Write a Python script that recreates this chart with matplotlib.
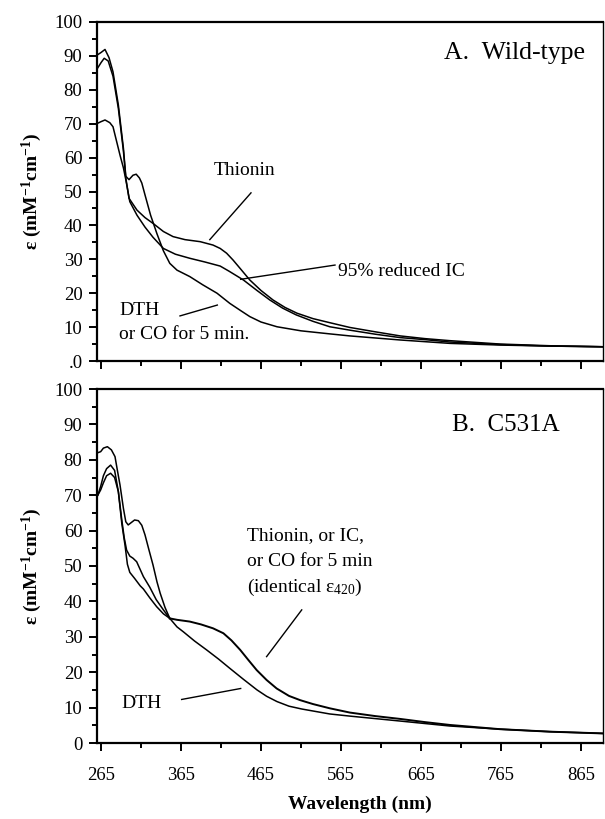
import matplotlib
matplotlib.use("Agg")
import matplotlib.pyplot as plt
from matplotlib.ticker import MultipleLocator, FixedLocator

plt.rcParams['font.family'] = ['Liberation Serif', 'DejaVu Serif']
plt.rcParams['mathtext.fontset'] = 'custom'
plt.rcParams['mathtext.rm'] = 'Liberation Serif'
plt.rcParams['mathtext.it'] = 'Liberation Serif:italic'
plt.rcParams['mathtext.bf'] = 'Liberation Serif:bold'

# ---- panel A: wild-type ----
wl_dth_a = [260.5, 265, 270, 275, 280, 286.7, 293, 296, 300, 305, 309, 313, 316, 320, 327, 335, 343,
            351, 360, 376, 392, 410, 426, 440, 451, 465, 485, 515, 551, 576, 639, 701, 764, 826, 893]
eps_dth_a = [90.3, 91.0, 91.9, 89.5, 85.3, 75.5, 62.8, 54.5, 53.5, 54.8, 55.1, 54.0, 52.5, 49.0, 43.0, 37.5, 32.5,
             28.8, 26.8, 24.9, 22.5, 20.0, 17.0, 14.8, 13.1, 11.5, 10.1, 8.9, 8.0, 7.4, 6.2, 5.2, 4.7, 4.4, 4.2]

wl_thio_a = [260.5, 265, 269, 274, 280, 286.7, 293, 296, 300, 310, 320, 330, 343, 355, 370, 389, 405, 414,
             422, 430, 440, 451, 465, 480, 495, 510, 530, 551, 576, 608, 639, 670, 701, 764, 826, 893]
eps_thio_a = [86.3, 88.0, 89.3, 88.5, 84.0, 74.5, 62.0, 54.0, 48.0, 44.5, 42.3, 40.6, 38.2, 36.7, 35.8, 35.2, 34.2, 33.2,
              31.8, 29.8, 27.0, 23.9, 20.8, 18.0, 15.8, 14.1, 12.5, 11.3, 9.9, 8.6, 7.4, 6.6, 6.0, 5.0, 4.5, 4.2]

wl_ic_a = [260.5, 265, 270, 276, 280, 284.6, 289, 293, 296, 301, 310, 320, 330, 343, 358, 376, 395, 414,
           425, 443, 460, 476, 492, 509, 530, 551, 576, 608, 639, 670, 701, 764, 826, 893]
eps_ic_a = [70.1, 70.6, 71.1, 70.3, 69.1, 64.7, 60.5, 57.0, 53.5, 47.0, 43.0, 39.5, 36.5, 33.2, 31.5, 30.3, 29.2, 28.0,
            26.5, 23.9, 20.8, 18.0, 15.6, 13.6, 11.7, 10.1, 9.1, 7.9, 6.9, 6.3, 5.6, 4.85, 4.4, 4.2]

# ---- panel B: C531A ----
wl_dth_b = [261, 264.6, 268, 273, 278, 282.5, 285.5, 288.75, 293, 296, 299, 303, 307, 311.7, 316, 320, 325, 330,
            335, 339, 345, 351, 360, 368, 382, 397, 412, 426, 443, 460, 472, 485, 500, 516, 551, 576, 639, 701, 764, 826, 893]
eps_dth_b = [82.0, 82.3, 83.3, 83.7, 82.8, 80.9, 77.0, 72.9, 66.3, 62.5, 61.6, 62.3, 63.0, 62.8, 61.5, 58.8, 54.5, 50.3,
             45.5, 42.3, 38.3, 35.2, 32.8, 31.4, 28.8, 26.3, 23.7, 21.1, 18.0, 15.0, 13.2, 11.7, 10.4, 9.6, 8.2, 7.6, 6.2, 4.8, 3.9, 3.2, 2.7]

wl_ox1_b = [261, 264.6, 268, 272, 277, 282, 286.7, 291, 294, 297, 301, 305, 309.6, 314, 318, 326, 334, 343, 351]
eps_ox1_b = [70.0, 72.5, 75.5, 77.5, 78.5, 77.0, 71.0, 63.0, 58.0, 54.5, 52.8, 52.2, 51.2, 49.0, 47.0, 44.0, 40.5, 37.6, 35.2]

wl_ox2_b = [261, 264.6, 268, 272, 277, 282, 286.7, 291, 295, 298, 301, 307, 314, 318, 326, 334.6, 343, 351]
eps_ox2_b = [70.0, 71.5, 73.5, 75.5, 76.2, 75.0, 71.0, 62.0, 55.9, 50.5, 48.2, 46.5, 44.4, 43.5, 41.0, 38.5, 36.5, 35.2]

# shared long-wavelength part of the oxidised / IC / CO spectra
wl_ox_tail_b = [351, 360, 376, 390, 405, 418, 428, 439, 449, 459.6, 472, 484.6, 500, 514, 530, 551, 576, 608,
                639, 670, 701, 764, 826, 893]
eps_ox_tail_b = [35.2, 34.8, 34.3, 33.5, 32.4, 31.0, 29.0, 26.3, 23.5, 20.6, 17.8, 15.4, 13.3, 12.1, 11.0, 9.8, 8.6, 7.6,
                 6.8, 5.9, 5.1, 3.9, 3.2, 2.7]

x_major = [265, 365, 465, 565, 665, 765, 865]
x_minor = [315, 415, 515, 615, 715, 815]

fig = plt.figure(figsize=(6.05, 8.19), dpi=100)
axA = fig.add_axes([97 / 605, 1 - 361 / 819, 506 / 605, 339 / 819])
axB = fig.add_axes([97 / 605, 1 - 743 / 819, 506 / 605, 354 / 819])

lw = 1.1
axA.plot(wl_dth_a, eps_dth_a, color='black', lw=lw)
axA.plot(wl_thio_a, eps_thio_a, color='black', lw=lw)
axA.plot(wl_ic_a, eps_ic_a, color='black', lw=lw)

axB.plot(wl_dth_b, eps_dth_b, color='black', lw=lw)
axB.plot(wl_ox1_b, eps_ox1_b, color='black', lw=lw)
axB.plot(wl_ox2_b, eps_ox2_b, color='black', lw=lw)
axB.plot(wl_ox_tail_b, eps_ox_tail_b, color='black', lw=lw + 0.3)

ylab = r'ε (mM$^{\mathbf{-1}}$cm$^{\mathbf{-1}}$)'
for ax in (axA, axB):
    ax.set_xlim(260, 892.5)
    ax.set_ylim(0, 100)
    ax.xaxis.set_major_locator(FixedLocator(x_major))
    ax.xaxis.set_minor_locator(FixedLocator(x_minor))
    ax.yaxis.set_major_locator(MultipleLocator(10))
    ax.yaxis.set_minor_locator(MultipleLocator(5))
    ax.tick_params(which='both', direction='out', width=1.4, top=False, right=False)
    ax.tick_params(which='major', length=5.5)
    ax.tick_params(which='minor', length=3.5)
    ax.tick_params(axis='y', labelsize=13.5, pad=5)
    ax.tick_params(axis='x', labelsize=13.5, pad=12)
    for s in ('left', 'bottom', 'top'):
        ax.spines[s].set_linewidth(1.6)
    ax.spines['right'].set_linewidth(1.0)
    ax.set_ylabel(ylab, fontsize=14, fontweight='bold')
    ax.yaxis.set_label_coords(-0.105, 0.5)

axA.set_xticklabels([])
axA.set_yticks(range(0, 101, 10))
axA.set_yticklabels(['.0'] + [str(v) for v in range(10, 101, 10)])

fig.text(0.595, 0.018, 'Wavelength (nm)', fontsize=14, fontweight='bold', ha='center', va='center')

# panel A annotations
axA.text(870, 91, 'A.  Wild-type', fontsize=18.5, ha='right', va='center')
axA.text(445, 56.3, 'Thionin', fontsize=14, ha='center', va='center')
axA.plot([452.5, 401], [49.6, 35.8], color='black', lw=1.0)
axA.text(561, 26.3, '95% reduced IC', fontsize=14, ha='left', va='center')
axA.plot([439.6, 557.5], [24.1, 28.3], color='black', lw=1.0)
axA.text(287.5, 15, 'DTH', fontsize=14, ha='left', va='center')
axA.text(287.5, 7.7, 'or CO for 5 min.', fontsize=14, ha='left', va='center')
axA.plot([363.75, 410.4], [13.3, 16.5], color='black', lw=1.0)

# panel B annotations
axB.text(838.75, 89.7, 'B.  C531A', fontsize=18, ha='right', va='center')
axB.text(447, 58.6, 'Thionin, or IC,', fontsize=14, ha='left', va='center')
axB.text(447, 51.3, 'or CO for 5 min', fontsize=14, ha='left', va='center')
axB.text(447, 43.9, '(identical ε$_{420}$)', fontsize=14, ha='left', va='center')
axB.plot([515.9, 472], [37.6, 24.4], color='black', lw=1.0)
axB.text(290.8, 11.2, 'DTH', fontsize=14, ha='left', va='center')
axB.plot([365.8, 439.6], [12.3, 15.4], color='black', lw=1.0)

fig.savefig('out.png', dpi=100)
